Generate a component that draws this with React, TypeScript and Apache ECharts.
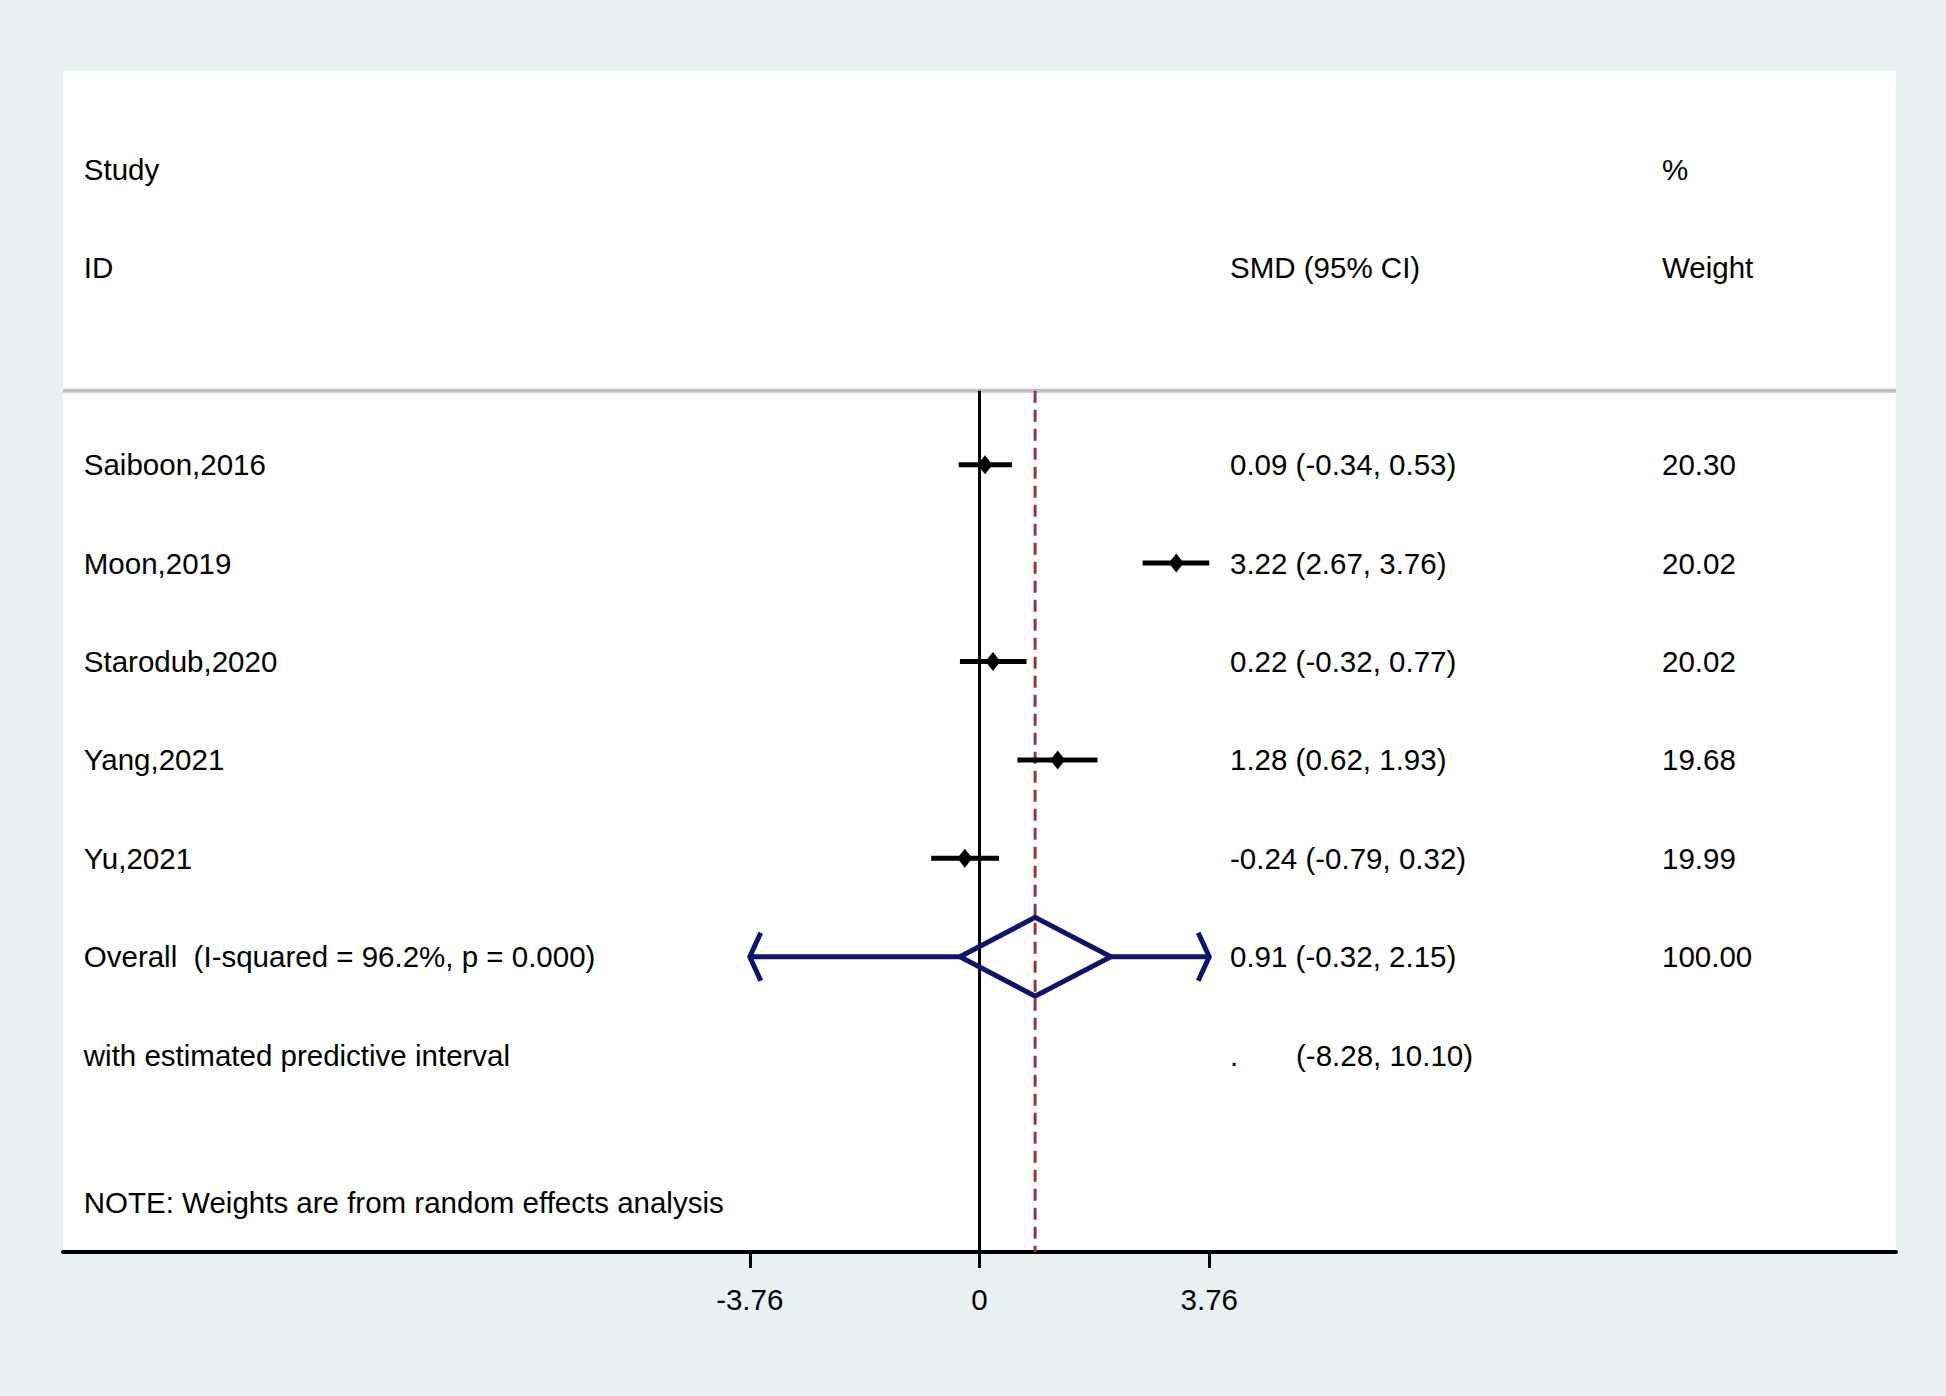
import React, { useEffect, useRef } from "react";
import * as echarts from "echarts";

// ---- data ----
const studies = ["Saiboon,2016", "Moon,2019", "Starodub,2020", "Yang,2021", "Yu,2021"];
const smd = [0.09, 3.22, 0.22, 1.28, -0.24];
const ciLow = [-0.34, 2.67, -0.32, 0.62, -0.79];
const ciHigh = [0.53, 3.76, 0.77, 1.93, 0.32];
const weights = [20.3, 20.02, 20.02, 19.68, 19.99];
const overallSMD = 0.91;
const overallLow = -0.32;
const overallHigh = 2.15;
const overallWeight = 100.0;
const predLow = -8.28;
const predHigh = 10.1;
const iSquared = 96.2;
const pValue = 0.0;
const xTickValues = [-3.76, 0, 3.76];
const noteText = "NOTE: Weights are from random effects analysis";

// ---- layout constants ----
const X_MIN = -15;
const X_MAX = 15;
const COL_LABEL = -14.66;
const COL_SMD = 4.1;
const COL_PRED = 5.18;
const COL_WEIGHT = 11.17;
const ROW_HEADER1 = -3;
const ROW_HEADER2 = -2;
const ROW_LINE = -0.75;
const ROW_OVERALL = studies.length;
const ROW_PRED = studies.length + 1;
const ROW_NOTE = 7.5;
const Y_MIN = -4;
const Y_MAX = 8;

const FONT = '"Liberation Sans", Arial, Helvetica, sans-serif';
const FS = 29.5;
const NAVY = "#10136b";
const MAROON = "#8b3a40";

const fmtCI = (m: number, l: number, h: number) =>
  `${m.toFixed(2)} (${l.toFixed(2)}, ${h.toFixed(2)})`;

type TextItem = { x: number; y: number; text: string };
const textItems: TextItem[] = [
  { x: COL_LABEL, y: ROW_HEADER1, text: "Study" },
  { x: COL_LABEL, y: ROW_HEADER2, text: "ID" },
  { x: COL_SMD, y: ROW_HEADER2, text: "SMD (95% CI)" },
  { x: COL_WEIGHT, y: ROW_HEADER1, text: "%" },
  { x: COL_WEIGHT, y: ROW_HEADER2, text: "Weight" },
  ...studies.map((s, i) => ({ x: COL_LABEL, y: i, text: s })),
  ...studies.map((_, i) => ({ x: COL_SMD, y: i, text: fmtCI(smd[i], ciLow[i], ciHigh[i]) })),
  ...studies.map((_, i) => ({ x: COL_WEIGHT, y: i, text: weights[i].toFixed(2) })),
  {
    x: COL_LABEL,
    y: ROW_OVERALL,
    text: `Overall\u00a0 (I-squared = ${iSquared.toFixed(1)}%, p = ${pValue.toFixed(3)})`,
  },
  { x: COL_SMD, y: ROW_OVERALL, text: fmtCI(overallSMD, overallLow, overallHigh) },
  { x: COL_WEIGHT, y: ROW_OVERALL, text: overallWeight.toFixed(2) },
  { x: COL_LABEL, y: ROW_PRED, text: "with estimated predictive interval" },
  { x: COL_SMD, y: ROW_PRED, text: "." },
  { x: COL_PRED, y: ROW_PRED, text: `(${predLow.toFixed(2)}, ${predHigh.toFixed(2)})` },
  { x: COL_LABEL, y: ROW_NOTE, text: noteText },
];

export default function App() {
  const ref = useRef<HTMLDivElement>(null);
  useEffect(() => {
    if (!ref.current) return;
    const chart = echarts.init(ref.current, undefined, { renderer: "svg" });
    const clipL = xTickValues[0];
    const clipR = xTickValues[xTickValues.length - 1];

    const option: any = {
      animation: false,
      backgroundColor: "#e8f0f2",
      grid: {
        left: 63,
        right: 50,
        top: 71,
        bottom: 144,
        show: true,
        backgroundColor: "#ffffff",
        borderWidth: 0,
      },
      xAxis: {
        type: "value",
        min: X_MIN,
        max: X_MAX,
        splitLine: { show: false },
        axisLine: { show: true, onZero: false, lineStyle: { color: "#000", width: 4 } },
        axisTick: {
          show: true,
          customValues: xTickValues,
          length: 16,
          lineStyle: { color: "#000", width: 3 },
        },
        axisLabel: {
          show: true,
          customValues: xTickValues,
          margin: 32,
          color: "#000",
          fontSize: FS,
          fontFamily: FONT,
          formatter: (v: number) => String(v),
        },
      },
      yAxis: {
        type: "value",
        min: Y_MIN,
        max: Y_MAX,
        inverse: true,
        show: false,
        splitLine: { show: false },
      },
      series: [
        {
          type: "line",
          silent: true,
          symbol: "none",
          data: [
            [X_MIN, ROW_LINE],
            [X_MAX, ROW_LINE],
          ],
          lineStyle: { color: "#c0c0c0", width: 4 },
          z: 1,
        },
        {
          type: "line",
          silent: true,
          symbol: "none",
          data: [
            [0, ROW_LINE],
            [0, Y_MAX],
          ],
          lineStyle: { color: "#000", width: 3 },
          z: 2,
        },
        {
          type: "line",
          silent: true,
          symbol: "none",
          data: [
            [overallSMD, ROW_LINE],
            [overallSMD, Y_MAX],
          ],
          lineStyle: { color: MAROON, width: 3, type: [12, 7] },
          z: 2,
        },
        {
          type: "custom",
          silent: true,
          z: 3,
          data: studies.map((_, i) => [ciLow[i], ciHigh[i], smd[i], i]),
          renderItem: (params: any, api: any) => {
            const y = api.value(3);
            const lo = api.coord([api.value(0), y]);
            const hi = api.coord([api.value(1), y]);
            const c = api.coord([api.value(2), y]);
            return {
              type: "group",
              children: [
                {
                  type: "line",
                  shape: { x1: lo[0], y1: lo[1], x2: hi[0], y2: hi[1] },
                  style: { stroke: "#000", lineWidth: 5 },
                },
                {
                  type: "polygon",
                  shape: {
                    points: [
                      [c[0] - 7.5, c[1]],
                      [c[0], c[1] - 9.5],
                      [c[0] + 7.5, c[1]],
                      [c[0], c[1] + 9.5],
                    ],
                  },
                  style: { fill: "#000" },
                },
              ],
            };
          },
        },
        {
          type: "custom",
          silent: true,
          z: 4,
          data: [[overallLow, overallHigh, overallSMD, predLow, predHigh, ROW_OVERALL]],
          renderItem: (params: any, api: any) => {
            const y = api.value(5);
            const lo = api.coord([api.value(0), y]);
            const hi = api.coord([api.value(1), y]);
            const top = api.coord([api.value(2), y - 0.4]);
            const bot = api.coord([api.value(2), y + 0.4]);
            const pl = Math.max(api.value(3), clipL);
            const pr = Math.min(api.value(4), clipR);
            const pL = api.coord([pl, y]);
            const pR = api.coord([pr, y]);
            const st = { stroke: NAVY, lineWidth: 5, fill: null, lineJoin: "miter" };
            const children: any[] = [
              {
                type: "line",
                shape: { x1: pL[0], y1: pL[1], x2: lo[0], y2: lo[1] },
                style: st,
              },
              {
                type: "line",
                shape: { x1: hi[0], y1: hi[1], x2: pR[0], y2: pR[1] },
                style: st,
              },
              {
                type: "polygon",
                shape: { points: [lo, top, hi, bot] },
                style: st,
              },
            ];
            if (api.value(3) < clipL) {
              children.push({
                type: "polyline",
                shape: {
                  points: [
                    [pL[0] + 11, pL[1] - 24],
                    [pL[0], pL[1]],
                    [pL[0] + 11, pL[1] + 24],
                  ],
                },
                style: st,
              });
            }
            if (api.value(4) > clipR) {
              children.push({
                type: "polyline",
                shape: {
                  points: [
                    [pR[0] - 11, pR[1] - 24],
                    [pR[0], pR[1]],
                    [pR[0] - 11, pR[1] + 24],
                  ],
                },
                style: st,
              });
            }
            return { type: "group", children };
          },
        },
        {
          type: "custom",
          silent: true,
          z: 5,
          data: textItems.map((t) => [t.x, t.y]),
          renderItem: (params: any, api: any) => {
            const p = api.coord([api.value(0), api.value(1)]);
            const t = textItems[params.dataIndex];
            return {
              type: "text",
              x: p[0],
              y: p[1],
              style: {
                text: t.text,
                fill: "#000",
                fontSize: FS,
                fontFamily: FONT,
                align: "left",
                verticalAlign: "middle",
              },
            };
          },
        },
      ],
    };
    chart.setOption(option);
    return () => chart.dispose();
  }, []);
  return (
    <div
      ref={ref}
      style={{ position: "absolute", left: 0, top: 0, width: 1946, height: 1396 }}
    />
  );
}
